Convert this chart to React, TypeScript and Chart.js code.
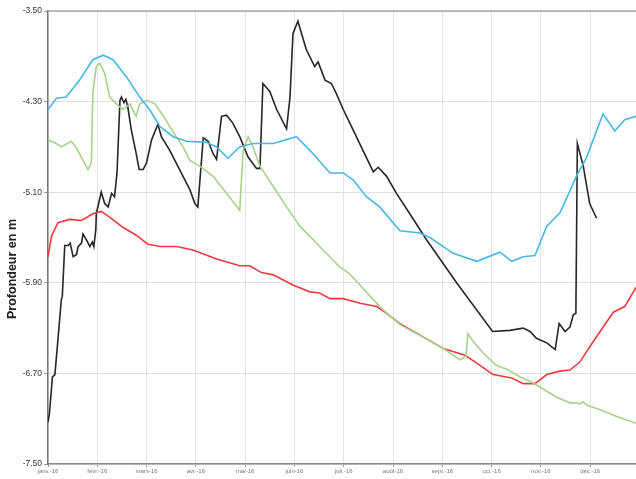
import React, { useEffect, useRef } from "react";
import { Chart, registerables } from "chart.js";

Chart.register(...registerables);

const monthLabels = ["janv.-16", "févr.-16", "mars-16", "avr.-16", "mai-16", "juin-16", "juil.-16", "août-16", "sept.-16", "oct.-16", "nov.-16", "déc.-16"];
const yTicks = [-7.5, -6.7, -5.9, -5.1, -4.3, -3.5];
const yTitle = "Profondeur en m";

// x = position in months from 1 Jan 2016
const blueX = [0, 0.17, 0.37, 0.64, 0.91, 1.12, 1.32, 1.59, 1.86, 2.06, 2.27, 2.54, 2.81, 3.21, 3.42, 3.65, 3.89, 4.16, 4.57, 5.04, 5.38, 5.72, 5.99, 6.19, 6.46, 6.73, 7.14, 7.54, 7.75, 8.22, 8.70, 9.17, 9.41, 9.64, 9.88, 10.12, 10.39, 10.72, 10.93, 11.26, 11.50, 11.70, 11.93];
const blueY = [-4.37, -4.27, -4.26, -4.11, -3.93, -3.89, -3.93, -4.08, -4.26, -4.37, -4.52, -4.61, -4.65, -4.66, -4.70, -4.80, -4.70, -4.67, -4.67, -4.61, -4.76, -4.93, -4.93, -4.99, -5.14, -5.23, -5.44, -5.46, -5.50, -5.64, -5.71, -5.63, -5.71, -5.67, -5.66, -5.40, -5.28, -4.96, -4.79, -4.41, -4.56, -4.46, -4.43];

const greenX = [0, 0.17, 0.27, 0.47, 0.58, 0.71, 0.81, 0.88, 0.91, 0.98, 1.05, 1.15, 1.25, 1.39, 1.52, 1.66, 1.79, 1.86, 2.0, 2.17, 2.33, 2.54, 2.74, 2.88, 3.08, 3.35, 3.62, 3.89, 3.96, 4.06, 4.16, 4.30, 4.57, 4.84, 5.11, 5.38, 5.58, 5.92, 6.12, 6.73, 7.14, 7.61, 8.02, 8.36, 8.48, 8.52, 8.63, 8.83, 9.10, 9.30, 9.57, 9.78, 9.98, 10.32, 10.59, 10.72, 10.79, 10.86, 10.93, 11.20, 11.54, 11.93];
const greenY = [-4.64, -4.67, -4.70, -4.65, -4.71, -4.82, -4.90, -4.84, -4.22, -3.99, -3.96, -4.05, -4.26, -4.32, -4.37, -4.32, -4.43, -4.32, -4.29, -4.32, -4.42, -4.57, -4.70, -4.82, -4.87, -4.96, -5.11, -5.26, -4.73, -4.61, -4.70, -4.87, -5.05, -5.23, -5.40, -5.52, -5.61, -5.76, -5.82, -6.11, -6.27, -6.38, -6.48, -6.58, -6.55, -6.35, -6.42, -6.52, -6.63, -6.66, -6.73, -6.77, -6.82, -6.91, -6.96, -6.96, -6.97, -6.95, -6.98, -7.02, -7.08, -7.14];

const redX = [0, 0.07, 0.20, 0.44, 0.68, 0.91, 1.08, 1.25, 1.52, 1.79, 2.03, 2.27, 2.61, 2.94, 3.42, 3.89, 4.09, 4.33, 4.57, 4.97, 5.31, 5.51, 5.72, 5.99, 6.33, 6.67, 6.87, 7.14, 7.54, 8.02, 8.46, 8.70, 9.03, 9.41, 9.64, 9.88, 10.12, 10.39, 10.59, 10.79, 11.06, 11.47, 11.70, 11.93];
const redY = [-5.67, -5.49, -5.37, -5.34, -5.35, -5.29, -5.27, -5.32, -5.41, -5.48, -5.56, -5.58, -5.58, -5.61, -5.69, -5.75, -5.75, -5.81, -5.83, -5.92, -5.98, -5.99, -6.04, -6.04, -6.08, -6.11, -6.17, -6.26, -6.36, -6.48, -6.54, -6.61, -6.71, -6.74, -6.79, -6.79, -6.71, -6.68, -6.67, -6.60, -6.42, -6.16, -6.11, -5.94];

const blackX = [0, 0.03, 0.09, 0.14, 0.20, 0.27, 0.29, 0.34, 0.41, 0.45, 0.51, 0.58, 0.61, 0.68, 0.71, 0.78, 0.85, 0.90, 0.93, 0.97, 0.98, 1.08, 1.15, 1.22, 1.29, 1.35, 1.40, 1.46, 1.49, 1.54, 1.58, 1.62, 1.69, 1.79, 1.85, 1.93, 2.0, 2.10, 2.23, 2.30, 2.47, 2.67, 2.88, 2.98, 3.04, 3.15, 3.25, 3.35, 3.42, 3.52, 3.62, 3.75, 3.89, 4.06, 4.23, 4.30, 4.36, 4.50, 4.64, 4.84, 4.91, 4.97, 5.07, 5.24, 5.41, 5.48, 5.62, 5.75, 5.85, 5.99, 6.19, 6.39, 6.60, 6.70, 6.87, 7.07, 7.34, 7.68, 8.29, 9.02, 9.37, 9.64, 9.78, 9.91, 10.12, 10.29, 10.37, 10.49, 10.59, 10.66, 10.71, 10.74, 10.86, 10.99, 11.13];
const blackY = [-7.13, -7.05, -6.73, -6.71, -6.41, -6.05, -6.02, -5.57, -5.57, -5.55, -5.67, -5.65, -5.58, -5.55, -5.47, -5.52, -5.58, -5.54, -5.58, -5.43, -5.29, -5.10, -5.20, -5.23, -5.11, -5.14, -4.93, -4.29, -4.26, -4.31, -4.28, -4.35, -4.55, -4.76, -4.90, -4.90, -4.84, -4.64, -4.50, -4.61, -4.73, -4.90, -5.08, -5.20, -5.23, -4.62, -4.65, -4.76, -4.81, -4.43, -4.42, -4.49, -4.61, -4.79, -4.89, -4.89, -4.14, -4.21, -4.37, -4.54, -4.26, -3.70, -3.59, -3.84, -3.99, -3.95, -4.11, -4.14, -4.23, -4.37, -4.55, -4.73, -4.92, -4.88, -4.96, -5.11, -5.29, -5.52, -5.90, -6.33, -6.32, -6.30, -6.33, -6.39, -6.43, -6.49, -6.26, -6.33, -6.29, -6.18, -6.17, -4.67, -4.87, -5.20, -5.33];

const toPoints = (xs: number[], ys: number[]) => xs.map((x, i) => ({ x, y: ys[i] }));

const frame = {
  id: "frame",
  afterDraw(chart: any) {
    const { ctx, chartArea } = chart;
    ctx.save();
    ctx.strokeStyle = "#a8a8a8";
    ctx.lineWidth = 1.5;
    ctx.beginPath();
    ctx.moveTo(chartArea.left, chartArea.top);
    ctx.lineTo(chartArea.right, chartArea.top);
    ctx.stroke();
    ctx.translate(13, 269);
    ctx.rotate(-Math.PI / 2);
    ctx.fillStyle = "#222";
    ctx.font = "bold 12.5px 'Liberation Sans', Arial, sans-serif";
    ctx.textAlign = "center";
    ctx.textBaseline = "middle";
    ctx.fillText(yTitle, 0, 0);
    ctx.restore();
  },
};

export default function App() {
  const ref = useRef<HTMLCanvasElement | null>(null);
  useEffect(() => {
    document.body.style.margin = "0";
    const line = (data: any, color: string) => ({
      data,
      borderColor: color,
      borderWidth: 1.6,
      pointRadius: 0,
      tension: 0,
      fill: false,
    });
    const chart = new Chart(ref.current as HTMLCanvasElement, {
      type: "line",
      data: {
        datasets: [
          line(toPoints(blueX, blueY), "#45b8e3"),
          line(toPoints(greenX, greenY), "#a8d18c"),
          line(toPoints(redX, redY), "#ee3a3f"),
          line(toPoints(blackX, blackY), "#262626"),
        ],
      },
      options: {
        animation: false,
        responsive: false,
        devicePixelRatio: 1,
        layout: { padding: { top: 11, right: 0, left: 0, bottom: 0 } },
        plugins: { legend: { display: false }, tooltip: { enabled: false } },
        scales: {
          x: {
            type: "linear",
            min: 0,
            max: 11.93,
            afterBuildTicks: (s: any) => {
              s.ticks = monthLabels.map((_, i) => ({ value: i }));
            },
            afterFit: (s: any) => {
              s.height = 15;
            },
            ticks: {
              autoSkip: false,
              maxRotation: 0,
              padding: 1,
              color: "#777",
              font: { size: 6, family: "'Liberation Sans', Arial, sans-serif" },
              callback: (v: any) => monthLabels[Math.round(Number(v))] ?? "",
            },
            grid: { color: "#e4e4e4", lineWidth: 1, tickLength: 3, tickColor: "#999" },
            border: { color: "#8a8a8a", width: 1.5 },
          },
          y: {
            type: "linear",
            min: -7.5,
            max: -3.5,
            afterBuildTicks: (s: any) => {
              s.ticks = yTicks.map((v) => ({ value: v }));
            },
            afterFit: (s: any) => {
              s.width = 48;
            },
            ticks: {
              padding: 2,
              color: "#333",
              font: { size: 8.5, family: "'Liberation Sans', Arial, sans-serif" },
              callback: (v: any) => Number(v).toFixed(2),
            },
            grid: { color: "#e0e0e0", lineWidth: 1, tickLength: 4, tickColor: "#999" },
            border: { color: "#7a7a7a", width: 1.5 },
          },
        },
      },
      plugins: [frame],
    });
    return () => chart.destroy();
  }, []);
  return (
    <div style={{ width: 636, height: 479 }}>
      <canvas ref={ref} width={636} height={479} style={{ display: "block" }} />
    </div>
  );
}
